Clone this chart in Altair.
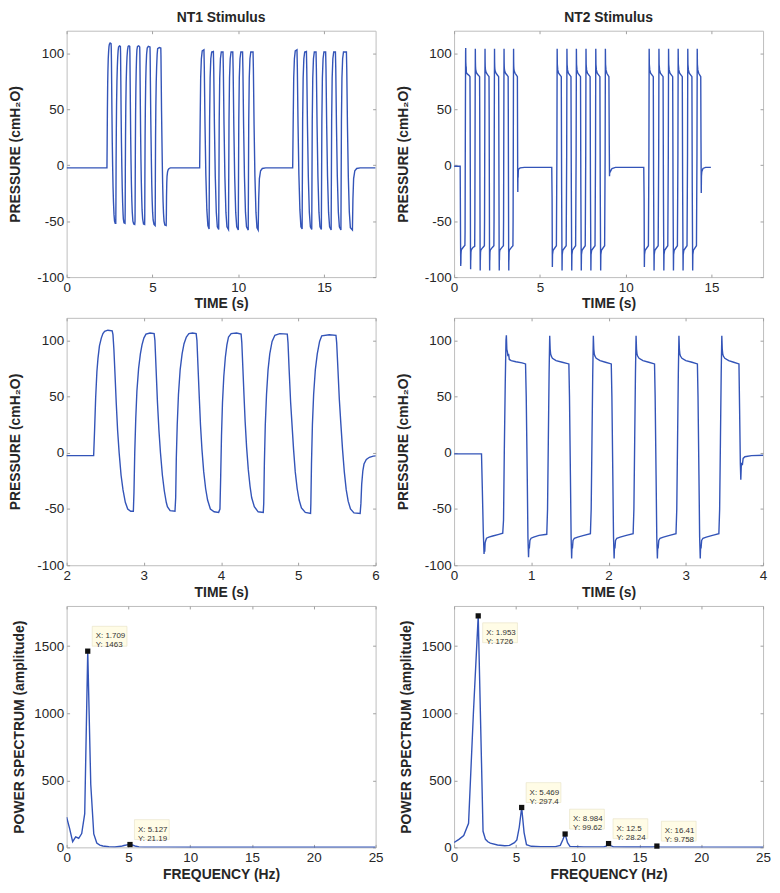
import altair as alt
import pandas as pd

FONT = "Liberation Sans"
BLUE = "#3354B8"
BOX = "#BDBDBD"
TICK = "#A0A0A0"
TXT = "#262626"

# ---------------- waveform vertices (time s, pressure cmH2O)
NT1_BURST1 = [
    (0.0, -2.5), (2.350, -2.5),
    (2.362, 20), (2.376, 49), (2.392, 72), (2.406, 84), (2.425, 95), (2.449, 102), (2.470, 106), (2.492, 108), (2.534, 109), (2.590, 108.5),
    (2.600, 105), (2.612, 92), (2.625, 72), (2.642, 45), (2.660, 20), (2.680, 0), (2.705, -20), (2.730, -33), (2.760, -44), (2.791, -50), (2.830, -52), (2.864, -52),
    (2.872, -35), (2.882, 0), (2.895, 30), (2.910, 55), (2.932, 75), (2.955, 88), (2.976, 96), (3.000, 102), (3.027, 105.5), (3.080, 106.5), (3.133, 106),
    (3.143, 100), (3.158, 75), (3.176, 45), (3.195, 20), (3.215, 0), (3.240, -20), (3.265, -34), (3.290, -44), (3.305, -48), (3.340, -51.5), (3.403, -52),
    (3.412, -40), (3.420, -5), (3.432, 25), (3.448, 52), (3.470, 74), (3.495, 88), (3.520, 97), (3.550, 103), (3.583, 106), (3.630, 106.5), (3.677, 106),
    (3.687, 100), (3.700, 78), (3.717, 50), (3.733, 25), (3.752, 3), (3.775, -17), (3.800, -32), (3.825, -42), (3.861, -50), (3.910, -52.5), (3.968, -53),
    (3.985, -50), (3.995, -20), (4.005, 15), (4.018, 45), (4.035, 68), (4.055, 85), (4.075, 96), (4.096, 103), (4.130, 106), (4.200, 106.5), (4.259, 105.5),
    (4.268, 98), (4.282, 75), (4.297, 50), (4.311, 28), (4.330, 5), (4.352, -15), (4.375, -30), (4.396, -40), (4.430, -48), (4.480, -52.5), (4.546, -53),
    (4.552, -45), (4.560, -10), (4.572, 25), (4.588, 52), (4.608, 74), (4.630, 88), (4.660, 99), (4.696, 104.5), (4.760, 106), (4.857, 105.5),
    (4.866, 98), (4.880, 75), (4.900, 45), (4.918, 25), (4.938, 3), (4.960, -17), (4.985, -32), (5.010, -42), (5.040, -49), (5.090, -53), (5.158, -54),
    (5.162, -45), (5.170, -10), (5.182, 25), (5.198, 52), (5.220, 74), (5.245, 88), (5.275, 99), (5.303, 104), (5.400, 105), (5.487, 104.5),
    (5.496, 98), (5.512, 75), (5.530, 48), (5.551, 25), (5.572, 3), (5.595, -17), (5.620, -33), (5.645, -43), (5.675, -50), (5.720, -53.5), (5.800, -54),
    (5.810, -45), (5.820, -28), (5.835, -16), (5.850, -10), (5.880, -6), (5.920, -4), (5.970, -3), (6.050, -2.5), (6.500, -2.5), (7.750, -2.5),
]

NT1_BURST2 = [
    (7.75, -2.5), (7.78, 40), (7.81, 78), (7.85, 95), (7.90, 102), (8.00, 103), (8.02, 88), (8.06, 38), (8.11, -8), (8.17, -40), (8.23, -54), (8.30, -57),
    (8.33, 40), (8.36, 78), (8.40, 95), (8.45, 101), (8.55, 101.5), (8.57, 86), (8.61, 36), (8.66, -10), (8.72, -42), (8.78, -55), (8.86, -57.5),
    (8.89, 40), (8.92, 78), (8.96, 95), (9.01, 101), (9.11, 101), (9.13, 86), (9.17, 36), (9.22, -10), (9.28, -42), (9.34, -55), (9.43, -57.5),
    (9.46, 40), (9.49, 78), (9.53, 95), (9.58, 101), (9.68, 101), (9.70, 86), (9.74, 36), (9.79, -10), (9.85, -42), (9.91, -55), (10.00, -58),
    (10.03, 40), (10.06, 78), (10.10, 95), (10.15, 101), (10.25, 101), (10.27, 86), (10.31, 36), (10.36, -10), (10.42, -42), (10.48, -55), (10.58, -58),
    (10.61, 40), (10.64, 78), (10.68, 95), (10.73, 101), (10.86, 101), (10.88, 86), (10.92, 36), (10.97, -10), (11.03, -42), (11.09, -56), (11.16, -58),
    (11.19, -30), (11.23, -12), (11.30, -5), (11.40, -3), (11.60, -2.5), (13.17, -2.5),
]

NT1_BURST3 = [
    (13.17, -2.5), (13.20, 40), (13.23, 78), (13.27, 95), (13.32, 102), (13.42, 103), (13.44, 88), (13.48, 38), (13.53, -8), (13.59, -40), (13.65, -55), (13.72, -57),
    (13.75, 40), (13.78, 78), (13.82, 95), (13.87, 101), (13.97, 101.5), (13.99, 86), (14.03, 36), (14.08, -10), (14.14, -42), (14.20, -55), (14.28, -57.5),
    (14.31, 40), (14.34, 78), (14.38, 95), (14.43, 101), (14.53, 101), (14.55, 86), (14.59, 36), (14.64, -10), (14.70, -42), (14.76, -55), (14.84, -57.5),
    (14.87, 40), (14.90, 78), (14.94, 95), (14.99, 101), (15.09, 101), (15.11, 86), (15.15, 36), (15.20, -10), (15.26, -42), (15.32, -55), (15.41, -58),
    (15.44, 40), (15.47, 78), (15.51, 95), (15.56, 101), (15.66, 101), (15.68, 86), (15.72, 36), (15.77, -10), (15.83, -42), (15.89, -55), (15.98, -58),
    (16.01, 40), (16.04, 78), (16.08, 95), (16.13, 101), (16.30, 101), (16.32, 86), (16.36, 36), (16.41, -10), (16.47, -42), (16.53, -56), (16.65, -58),
    (16.68, -30), (16.72, -12), (16.79, -5), (16.90, -3), (17.10, -2.5), (18.00, -2.5),
]

NT2_BURST1 = [
    (0.0, -1), (0.355, -1),
    (0.365, -30), (0.378, -70), (0.388, -90), (0.393, -84), (0.397, -88), (0.402, -80), (0.410, -78), (0.420, -76), (0.450, -75), (0.500, -74), (0.580, -72.5), (0.630, -71.5),
    (0.640, -60), (0.650, 0), (0.662, 60), (0.672, 100), (0.677, 104.5), (0.683, 92), (0.690, 90), (0.697, 86), (0.705, 88), (0.715, 83), (0.740, 82), (0.800, 81), (0.880, 80), (0.925, 79),
    (0.934, 50), (0.947, -20), (0.956, -75), (0.964, -93), (0.969, -82), (0.974, -85), (0.982, -78), (0.997, -76), (1.030, -75), (1.100, -73.5), (1.200, -72.5),
    (1.210, -50), (1.220, 10), (1.230, 70), (1.238, 104), (1.244, 92), (1.250, 88), (1.258, 86), (1.273, 84), (1.320, 82), (1.400, 80.5), (1.486, 79),
    (1.494, 50), (1.506, -20), (1.515, -75), (1.522, -94), (1.527, -82), (1.532, -85), (1.540, -78), (1.557, -76), (1.600, -75), (1.680, -73.5), (1.765, -72),
    (1.775, -50), (1.785, 10), (1.795, 70), (1.803, 104), (1.809, 92), (1.815, 88), (1.823, 86), (1.840, 84), (1.890, 82), (1.960, 80.5), (2.035, 79),
    (2.043, 50), (2.055, -20), (2.064, -75), (2.072, -94), (2.077, -82), (2.082, -85), (2.090, -78), (2.107, -76), (2.150, -75), (2.230, -73.5), (2.318, -72),
    (2.328, -50), (2.338, 10), (2.348, 70), (2.356, 104), (2.362, 92), (2.368, 88), (2.376, 86), (2.395, 84), (2.445, 82), (2.520, 80.5), (2.595, 79),
    (2.603, 50), (2.615, -20), (2.624, -75), (2.632, -94), (2.637, -82), (2.642, -85), (2.650, -78), (2.667, -76), (2.710, -75), (2.790, -73.5), (2.873, -72),
    (2.883, -50), (2.893, 10), (2.903, 70), (2.911, 104), (2.917, 92), (2.923, 88), (2.931, 86), (2.950, 84), (3.000, 82), (3.080, 80.5), (3.150, 79),
    (3.158, 50), (3.170, -20), (3.179, -75), (3.187, -94), (3.192, -82), (3.197, -85), (3.205, -78), (3.222, -76), (3.265, -75), (3.345, -73.5), (3.428, -72),
    (3.438, -50), (3.448, 10), (3.458, 70), (3.466, 104), (3.472, 92), (3.478, 88), (3.486, 86), (3.505, 84), (3.555, 82), (3.620, 80.5), (3.688, 79),
    (3.696, 40), (3.706, -10), (3.712, -24), (3.718, -12), (3.724, -9), (3.732, -11), (3.742, -5), (3.765, -3.5), (3.850, -2.5), (4.100, -2), (5.690, -2),
]

NT2_BURST2 = [
    (5.690, -2), (5.710, -30), (5.725, -91), (5.735, -80), (5.770, -76), (5.960, -72),
    (5.990, 10), (6.005, 104), (6.015, 90), (6.040, 85), (6.090, 82), (6.245, 79),
    (6.265, -20), (6.290, -94), (6.300, -80), (6.335, -76), (6.530, -72),
    (6.560, 10), (6.575, 104), (6.585, 90), (6.610, 85), (6.660, 82), (6.810, 79),
    (6.830, -20), (6.855, -94), (6.865, -80), (6.900, -76), (7.080, -72),
    (7.110, 10), (7.125, 104), (7.135, 90), (7.160, 85), (7.210, 82), (7.365, 79),
    (7.385, -20), (7.410, -94), (7.420, -80), (7.455, -76), (7.640, -72),
    (7.670, 10), (7.685, 104), (7.695, 90), (7.720, 85), (7.770, 82), (7.925, 79),
    (7.945, -20), (7.970, -94), (7.980, -80), (8.015, -76), (8.210, -72),
    (8.240, 10), (8.255, 104), (8.265, 90), (8.290, 85), (8.340, 82), (8.495, 79),
    (8.515, -20), (8.540, -94), (8.550, -80), (8.585, -76), (8.770, -72),
    (8.800, 10), (8.815, 104), (8.825, 90), (8.850, 85), (8.900, 82), (9.020, 79),
    (9.040, 20), (9.055, -10), (9.070, -4), (9.100, -6), (9.200, -3), (9.400, -2), (11.050, -2),
]

NT2_BURST3 = [
    (11.050, -2), (11.070, -30), (11.085, -91), (11.095, -80), (11.130, -76), (11.320, -72),
    (11.350, 10), (11.365, 104), (11.375, 90), (11.400, 85), (11.450, 82), (11.605, 79),
    (11.625, -20), (11.650, -94), (11.660, -80), (11.695, -76), (11.890, -72),
    (11.920, 10), (11.935, 104), (11.945, 90), (11.970, 85), (12.020, 82), (12.175, 79),
    (12.195, -20), (12.220, -94), (12.230, -80), (12.265, -76), (12.450, -72),
    (12.480, 10), (12.495, 104), (12.505, 90), (12.530, 85), (12.580, 82), (12.735, 79),
    (12.755, -20), (12.780, -94), (12.790, -80), (12.825, -76), (13.010, -72),
    (13.040, 10), (13.055, 104), (13.065, 90), (13.090, 85), (13.140, 82), (13.295, 79),
    (13.315, -20), (13.340, -94), (13.350, -80), (13.385, -76), (13.570, -72),
    (13.600, 10), (13.615, 104), (13.625, 90), (13.650, 85), (13.700, 82), (13.855, 79),
    (13.875, -20), (13.900, -94), (13.910, -80), (13.945, -76), (14.120, -72),
    (14.150, 10), (14.165, 104), (14.175, 90), (14.200, 85), (14.250, 82), (14.370, 79),
    (14.385, 20), (14.400, -25), (14.410, -10), (14.430, -6), (14.500, -3), (14.650, -2), (14.960, -2),
]

# ---------------- power spectra (Hz, amplitude)
NT1_FREQ = [0, 0.244, 0.488, 0.732, 0.977, 1.221, 1.465, 1.709, 1.953, 2.197, 2.441, 2.686, 2.930, 3.418,
            3.906, 4.395, 4.639, 4.883, 5.127, 5.371, 5.615, 5.859, 6.348, 8.0, 10.0, 15.0, 20.0, 25.0]
NT1_AMP = [226, 140, 42, 78, 68, 103, 251, 1463, 470, 100, 32, 17, 10, 5,
           3, 8, 14, 19, 21.19, 16, 8, 4, 2, 1.5, 1, 1, 0.5, 0.5]

NT2_FREQ = [0, 0.391, 0.781, 1.172, 1.563, 1.953, 2.344, 2.539, 2.734, 2.930, 3.516, 4.102, 4.492, 4.883,
            5.078, 5.273, 5.469, 5.664, 5.859, 6.250, 7.0, 8.203, 8.594, 8.789, 8.984, 9.180, 9.375, 10.5,
            12.109, 12.305, 12.5, 12.695, 12.891, 14.0, 16.016, 16.211, 16.406, 16.602, 16.797, 20.0, 25.0]
NT2_AMP = [37, 60, 88, 180, 1000, 1726, 120, 60, 42, 32, 18, 12, 15, 35,
           55, 150, 297.4, 110, 20, 8, 6, 6, 15, 55, 99.62, 35, 7, 4,
           4, 10, 28.24, 12, 4, 3, 3, 6, 9.758, 4, 2, 1.5, 1]

NT1_PEAK_F = [1.709, 5.127]
NT1_PEAK_A = [1463, 21.19]
NT2_PEAK_F = [1.953, 5.469, 8.984, 12.5, 16.41]
NT2_PEAK_A = [1726, 297.4, 99.62, 28.24, 9.758]

TICKS_T18 = [0, 5, 10, 15]
TICKS_T_NT1 = [2, 3, 4, 5, 6]
TICKS_T_NT2 = [0, 1, 2, 3, 4]
TICKS_P = [-100, -50, 0, 50, 100]
TICKS_F = [0, 5, 10, 15, 20, 25]
TICKS_A = [0, 500, 1000, 1500]

P_TITLE = "PRESSURE (cmH\u2082O)"
T_TITLE = "TIME (s)"
F_TITLE = "FREQUENCY (Hz)"
A_TITLE = "POWER SPECTRUM (amplitude)"

W = 311
LABEL_SIZE = 13.5


def frame_of(*bursts):
    rows = [pt for b in bursts for pt in b]
    return pd.DataFrame({"i": list(range(len(rows))),
                         "x": [r[0] for r in rows],
                         "y": [r[1] for r in rows]})


def spec_frame(freqs, amps):
    return pd.DataFrame({"i": list(range(len(freqs))), "x": freqs, "y": amps})


def ax_bottom(values, title):
    return alt.Axis(orient="bottom", values=values, title=title, grid=False, domain=False,
                    tickSize=3, tickColor=TICK, tickWidth=1, offset=-3,
                    labelPadding=3, labelFontSize=LABEL_SIZE, labelFont=FONT, labelColor=TXT,
                    labelFlush=False, labelOverlap=False, labelExpr="'' + datum.value",
                    titleFont=FONT, titleFontSize=14, titleFontWeight="bold", titleColor=TXT,
                    titleY=30, titleBaseline="middle")


def ax_left(values, title, tx):
    return alt.Axis(orient="left", values=values, title=title, grid=False, domain=False,
                    tickSize=3, tickColor=TICK, tickWidth=1, offset=-3,
                    labelPadding=3, labelFontSize=LABEL_SIZE, labelFont=FONT, labelColor=TXT,
                    labelOverlap=False, labelExpr="'' + datum.value",
                    titleFont=FONT, titleFontSize=14, titleFontWeight="bold", titleColor=TXT,
                    titleX=tx, titleBaseline="middle", titleAngle=-90)


def ax_top(values):
    return alt.Axis(orient="top", values=values, title=None, labels=False, grid=False, domain=False,
                    tickSize=3, tickColor=TICK, tickWidth=1, offset=-3)


def ax_right(values):
    return alt.Axis(orient="right", values=values, title=None, labels=False, grid=False, domain=False,
                    tickSize=3, tickColor=TICK, tickWidth=1, offset=-3)


def panel(df, xdom, xticks, ydom, yticks, xtitle, ytitle, tx, h, extra=(), title=None):
    xs = alt.Scale(domain=xdom, nice=False, zero=False)
    ys = alt.Scale(domain=ydom, nice=False, zero=False)
    frame = alt.Chart(df).mark_line(opacity=0, clip=True).encode(
        x=alt.X("x:Q", scale=xs, axis=ax_top(xticks)),
        y=alt.Y("y:Q", scale=ys, axis=ax_right(yticks)),
        order="i:Q")
    line = alt.Chart(df).mark_line(color=BLUE, strokeWidth=1.4, clip=True).encode(
        x=alt.X("x:Q", scale=xs, axis=ax_bottom(xticks, xtitle)),
        y=alt.Y("y:Q", scale=ys, axis=ax_left(yticks, ytitle, tx)),
        order="i:Q")
    layers = [frame, line] + [mk(xs, ys) for mk in extra]
    ch = alt.layer(*layers).resolve_axis(x="independent", y="independent").properties(width=W, height=h)
    if title:
        ch = ch.properties(title=alt.TitleParams(text=title, font=FONT, fontSize=14, fontWeight="bold",
                                                 color=TXT, offset=5, anchor="middle"))
    return ch


def peak_layers(freqs, amps):
    pk = pd.DataFrame({"x": freqs, "y": amps,
                       "label": [f"X: {f:g}\nY: {a:g}" for f, a in zip(freqs, amps)]})
    above = pk[pk["y"] < 1600]
    below = pk[pk["y"] >= 1600]

    def enc(ch, xs, ys):
        return ch.encode(x=alt.X("x:Q", scale=xs, axis=None), y=alt.Y("y:Q", scale=ys, axis=None))

    makers = []
    makers.append(lambda xs, ys: enc(alt.Chart(pk).mark_square(size=28, color="#111111", opacity=1), xs, ys))
    for sub, oy in ((above, -15), (below, 17)):
        if len(sub) == 0:
            continue
        makers.append(lambda xs, ys, sub=sub, oy=oy: enc(
            alt.Chart(sub).mark_rect(width=35, height=20, xOffset=22, yOffset=oy,
                                     fill="#FFFCE6", stroke="#E6E0C4", strokeWidth=0.6), xs, ys))
        makers.append(lambda xs, ys, sub=sub, oy=oy: enc(
            alt.Chart(sub).mark_text(align="left", baseline="middle", dx=8, dy=oy, fontSize=8,
                                     lineHeight=9, lineBreak="\n", font=FONT, color="#333333"),
            xs, ys).encode(text="label:N"))
    return makers


p1 = panel(frame_of(NT1_BURST1, NT1_BURST2, NT1_BURST3), [0, 18], TICKS_T18, [-100, 120], TICKS_P,
           T_TITLE, P_TITLE, -54, 248, title="NT1 Stimulus")
p2 = panel(frame_of(NT2_BURST1, NT2_BURST2, NT2_BURST3), [0, 18], TICKS_T18, [-100, 120], TICKS_P,
           T_TITLE, P_TITLE, -54, 248, title="NT2 Stimulus")
p3 = panel(frame_of(NT1_BURST1), [2, 6], TICKS_T_NT1, [-100, 120], TICKS_P,
           T_TITLE, P_TITLE, -54, 249)
p4 = panel(frame_of(NT2_BURST1), [0, 4], TICKS_T_NT2, [-100, 120], TICKS_P,
           T_TITLE, P_TITLE, -54, 249)
p5 = panel(spec_frame(NT1_FREQ, NT1_AMP), [0, 25], TICKS_F, [0, 1800], TICKS_A,
           F_TITLE, A_TITLE, -50.5, 243, extra=peak_layers(NT1_PEAK_F, NT1_PEAK_A))
p6 = panel(spec_frame(NT2_FREQ, NT2_AMP), [0, 25], TICKS_F, [0, 1800], TICKS_A,
           F_TITLE, A_TITLE, -50.5, 243, extra=peak_layers(NT2_PEAK_F, NT2_PEAK_A))

chart = alt.concat(p1, p2, p3, p4, p5, p6, columns=2,
                   spacing={"row": 41, "column": 79}, bounds="flush", align="each").properties(
    padding={"left": 0, "top": 0, "right": 0, "bottom": 0}
).configure(font=FONT).configure_view(stroke=BOX, strokeWidth=1)

chart.save("out.html", embed_options={"renderer": "svg", "actions": False})
